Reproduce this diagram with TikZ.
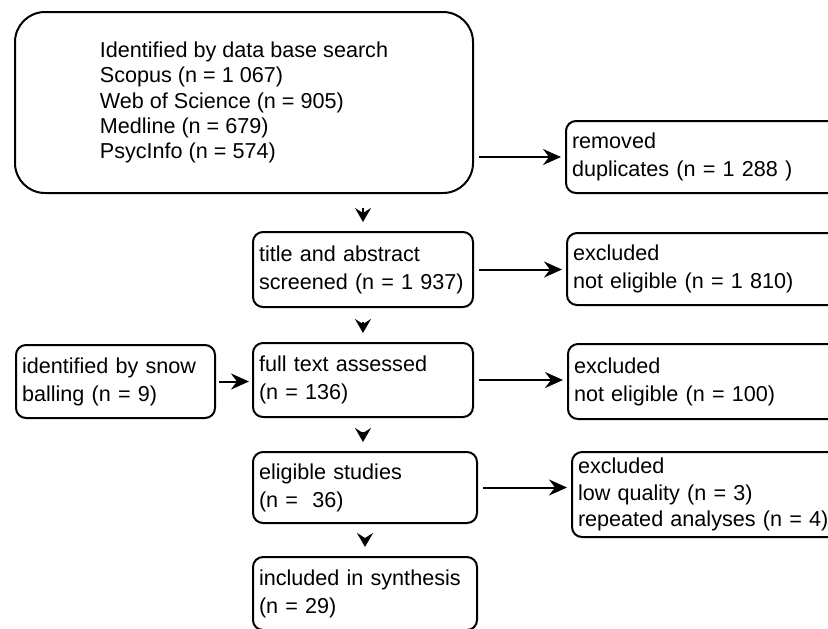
\documentclass[tikz,border=0pt]{standalone}
\usepackage{fontspec}
\setmainfont{Liberation Sans}
\usetikzlibrary{arrows.meta}
\tikzset{
  flowbox/.style={draw, line width=1pt, rounded corners=5pt, align=left,
    inner xsep=3pt, inner ysep=2pt, font=\fontsize{10.8pt}{14pt}\selectfont},
  flowarrow/.style={line width=1pt},
  downarrow/.style={flowarrow, -{Stealth[length=7pt,width=8pt,inset=2.5pt]},
    shorten <=7pt, shorten >=4.5pt},
  sidearrow/.style={flowarrow, -{Stealth[length=9pt,width=8pt,inset=3pt]},
    shorten <=2.5pt, shorten >=2pt}
}
\begin{document}
\begin{tikzpicture}[x=0.5pt,y=-0.5pt]
  \useasboundingbox (0,0) rectangle (828,628);
  \clip (0,0) rectangle (828,628);
  % search column
  \node[flowbox, rounded corners=15pt, minimum width=229pt, minimum height=90.5pt,
    font=\fontsize{10.8pt}{12.65pt}\selectfont] (db) at (244,102.5)
    {Identified by data base search\\Scopus (n = 1 067)\\Web of Science (n = 905)\\Medline (n = 679)\\PsycInfo (n = 574)};
  \node[flowbox, text width=104pt, minimum height=37.5pt] (title) at (363,269.5)
    {title and abstract\\screened (n = 1 937)};
  \node[flowbox, text width=104pt, minimum height=37pt] (full) at (363,380)
    {full text assessed\\(n = 136)};
  \node[flowbox, text width=106pt, minimum height=35.5pt] (elig) at (365,487.5)
    {eligible studies\\(n =~~36)};
  \node[flowbox, text width=106pt, minimum height=36.5pt] (incl) at (365,593.5)
    {included in synthesis\\(n = 29)};
  % side boxes
  \node[flowbox, text width=93.5pt, minimum height=36.5pt] (snow) at (115.5,381.5)
    {identified by snow\\balling (n = 9)};
  \node[flowbox, text width=139pt, minimum height=36pt] (removed) at (711,157)
    {removed\\duplicates (n = 1 288 )};
  \node[flowbox, text width=139pt, minimum height=36pt] (excl1) at (712,269)
    {excluded\\not eligible (n = 1 810)};
  \node[flowbox, text width=139pt, minimum height=37.5pt] (excl2) at (713,381.5)
    {excluded\\not eligible (n = 100)};
  \node[flowbox, text width=139pt, minimum height=42.5pt,
    font=\fontsize{10.8pt}{13.3pt}\selectfont] (excl3) at (717,494.5)
    {excluded\\low quality (n = 3)\\repeated analyses (n = 4)};
  % arrows
  \draw[downarrow] (title.north |- db.south) -- (title.north);
  \draw[downarrow] (title.south) -- (full.north);
  \draw[downarrow] (full.south) -- (full.south |- elig.north);
  \draw[downarrow] (elig.south) -- (incl.north);
  \draw[sidearrow] (removed.west -| db.east) -- (removed.west);
  \draw[sidearrow] (title.east) -- (title.east -| excl1.west);
  \draw[sidearrow, shorten <=1.5pt, shorten >=1.5pt] (snow.east) -- (snow.east -| full.west);
  \draw[sidearrow] (full.east) -- (full.east -| excl2.west);
  \draw[sidearrow] (elig.east) -- (elig.east -| excl3.west);
\end{tikzpicture}
\end{document}
